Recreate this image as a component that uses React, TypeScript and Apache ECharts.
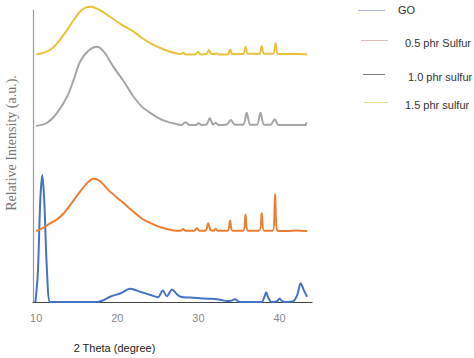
import React, { useEffect, useRef } from "react";
import * as echarts from "echarts";

const xTicks = [10, 20, 30, 40];
const seriesNames = ["GO", "0.5 phr Sulfur", "1.0 phr sulfur", "1.5 phr sulfur"];

const goData: number[][] = [
  [9.9, 0], [10.2, 10], [10.5, 35], [10.75, 43.5], [11.0, 34], [11.3, 12], [11.7, 0], [12.3, 0], [17.5, 0],
  [18.2, 0.5], [19.1, 1.8], [20.4, 3.0], [21.6, 4.5], [22.8, 3.5], [24.1, 2.4], [25.0, 1.6], [25.6, 3.9],
  [26.1, 2.0], [26.75, 4.3], [27.3, 2.8], [27.8, 1.8], [29.0, 1.5], [30.2, 1.3], [31.5, 1.1], [32.7, 0.8],
  [33.5, 0.3], [34.0, 0.4], [34.5, 0.9], [35.0, 0.1], [35.5, 0], [37.8, 0], [38.1, 1.5], [38.35, 3.3],
  [38.6, 1.5], [39.0, 0], [39.7, 0.3], [40.0, 1.2], [40.3, 0.3], [40.7, 0], [41.7, 0.3], [42.2, 2.5],
  [42.6, 6.4], [43.0, 4], [43.4, 1.8],
];

const s05Data: number[][] = [
  [10, 24.3], [10.8, 25.3], [11.7, 26.9], [12.6, 28.4], [13.4, 30.4], [14.4, 34], [15.4, 37.8], [16.3, 40.8],
  [17.05, 42.2], [17.8, 41.5], [19.1, 37.8], [20.5, 34.5], [22, 30.9], [23, 28.6], [24.1, 27], [25.1, 25.8],
  [26.1, 25], [27, 24.5], [27.8, 24.4], [28.1, 25], [28.4, 24.4], [29.5, 24.4], [29.8, 25.3], [30.1, 24.4],
  [30.9, 24.5], [31.2, 27], [31.5, 24.6], [31.9, 24.4], [32.1, 25.1], [32.4, 24.4], [33.6, 24.4], [33.9, 27.8],
  [34.2, 24.4], [35.5, 24.4], [35.8, 30], [36.1, 24.4], [37.5, 24.4], [37.8, 30.5], [38.1, 24.4], [39.15, 24.4],
  [39.45, 37], [39.75, 24.4], [41, 24.3], [42, 24.5], [43.4, 24.3],
];

const s10Data: number[][] = [
  [10, 60.3], [11.3, 61.3], [12.5, 64.5], [13.8, 70.3], [14.6, 76], [15.4, 82.3], [16.4, 86], [17.5, 87.4],
  [18.4, 85.5], [19.5, 80.6], [20.8, 75.5], [22, 70.3], [23, 67], [24.1, 64.7], [25.2, 62.8], [26.2, 61.7],
  [27.2, 61], [27.9, 60.6], [28.4, 61.6], [28.9, 60.6], [29.7, 60.6], [30, 61.2], [30.4, 60.6], [31.0, 60.8],
  [31.4, 62.9], [31.8, 60.8], [32.1, 61.3], [32.5, 60.6], [33.5, 60.8], [34.0, 62.3], [34.5, 60.7], [35.5, 60.7],
  [35.95, 64.8], [36.4, 60.7], [37.2, 60.7], [37.65, 64.8], [38.1, 60.7], [38.9, 60.7], [39.4, 62.6], [39.9, 60.6],
  [41, 60.6], [42.5, 60.6], [43.2, 60.6], [43.3, 61.5],
];

const s15Data: number[][] = [
  [10, 84.8], [10.8, 85.3], [11.7, 86.3], [12.7, 89], [13.8, 93.2], [14.6, 96.5], [15.4, 99.4], [16.1, 100.8],
  [16.8, 101.1], [17.6, 100.3], [18.3, 99.2], [19.1, 97.7], [20.5, 95], [22, 92.6], [23, 90.5], [24.1, 88.6],
  [25.3, 87], [26.5, 85.7], [27.5, 85], [27.8, 84.9], [28.1, 85.4], [28.4, 84.8], [29.6, 84.8], [29.95, 85.6],
  [30.3, 84.8], [31.0, 84.9], [31.3, 86.3], [31.6, 84.9], [32.0, 84.9], [32.2, 85.2], [32.5, 84.8], [33.6, 84.8],
  [33.9, 86.5], [34.2, 84.9], [35.5, 84.9], [35.8, 87.4], [36.1, 85], [37.5, 85], [37.8, 87.7], [38.1, 85],
  [39.2, 85], [39.5, 88.6], [39.8, 85], [41, 84.9], [42.5, 84.9], [43.4, 84.8],
];

const lineColors = ["#4472C4", "#ED7D31", "#A5A5A5", "#E8C33A"];
const legendLineColors = ["#aab2de", "#dcc0b8", "#808080", "#f2dd90"];

export default function App() {
  const ref = useRef<HTMLDivElement>(null);
  useEffect(() => {
    if (!ref.current) return;
    const chart = echarts.init(ref.current, undefined, { renderer: "svg" });
    const datasets = [goData, s05Data, s10Data, s15Data];
    const legendY = [10.5, 40.5, 74.5, 102.5];
    const legendLineX = [[358, 385], [361, 388], [363, 385], [364, 388]];
    const legendTextX = [398, 405, 408, 405];
    const graphics: any[] = [];
    seriesNames.forEach((n, i) => {
      graphics.push({
        type: "line",
        shape: { x1: legendLineX[i][0], y1: legendY[i], x2: legendLineX[i][1], y2: legendY[i] },
        style: { stroke: legendLineColors[i], lineWidth: 1 },
      });
      graphics.push({
        type: "text",
        x: legendTextX[i],
        y: Math.round(legendY[i]) + (i === 0 ? -1 : 2),
        style: {
          text: n, fill: "#333", font: "11px 'Liberation Sans', Arial, sans-serif",
          verticalAlign: "middle", align: "left",
        },
      });
    });
    graphics.push({
      type: "text",
      x: 11,
      y: 143,
      rotation: Math.PI / 2,
      style: {
        text: "Relative Intensity (a.u.).", fill: "#777",
        fontSize: 14, fontFamily: "Liberation Serif",
        align: "center", verticalAlign: "middle",
      },
    });
    graphics.push({
      type: "text",
      x: 114.5,
      y: 348,
      style: {
        text: "2 Theta (degree)", fill: "#222",
        font: "11px 'Liberation Sans', Arial, sans-serif",
        align: "center", verticalAlign: "middle",
      },
    });
    chart.setOption({
      animation: false,
      grid: { left: 33, right: 162, top: 10, bottom: 56, outerBoundsMode: "none" },
      xAxis: {
        type: "value", min: 9.6, max: 44,
        axisLine: { show: true, lineStyle: { color: "#444", width: 1.2 } },
        axisTick: { show: false },
        splitLine: { show: false },
        axisLabel: {
          customValues: xTicks, color: "#888", fontSize: 11, margin: 10,
          fontFamily: "'Liberation Sans', Arial, sans-serif",
        },
      },
      yAxis: {
        type: "value", min: 0, max: 100,
        axisLine: { show: true, lineStyle: { color: "#999", width: 1.2 } },
        axisTick: { show: false },
        axisLabel: { show: false },
        splitLine: { show: false },
      },
      series: datasets.map((d, i) => ({
        name: seriesNames[i],
        type: "line",
        data: d,
        symbol: "none",
        smooth: 0.3,
        clip: i === 3 ? false : true,
        lineStyle: { color: lineColors[i], width: 2 },
        z: 2 + i,
      })),
      graphic: graphics,
    });
    return () => chart.dispose();
  }, []);
  return <div ref={ref} style={{ width: 474, height: 358, position: "absolute", left: 0, top: 0, background: "#fff" }} />;
}
